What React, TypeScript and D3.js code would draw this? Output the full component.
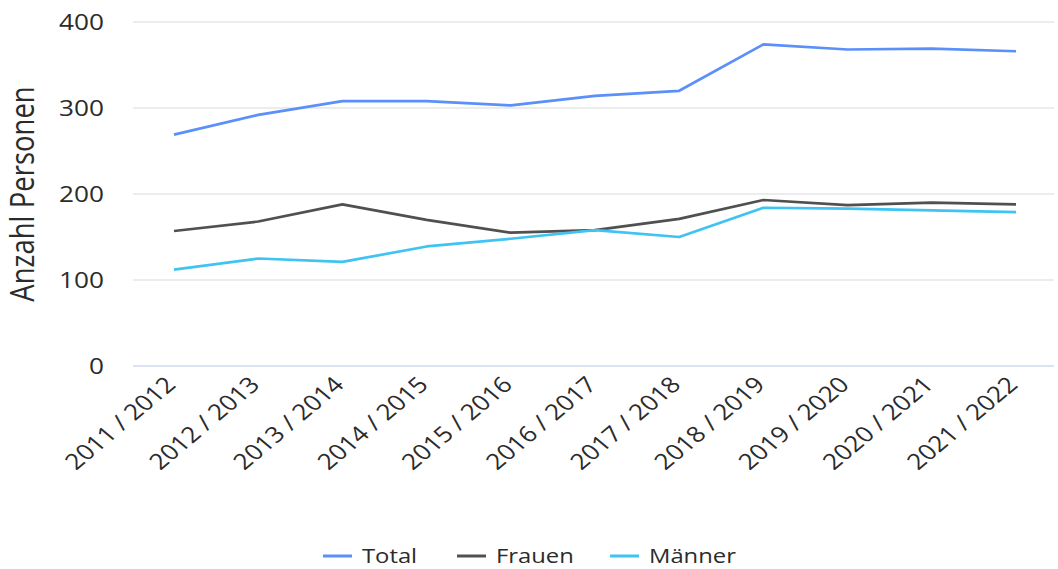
import React from "react";
import * as d3 from "d3";

const categories = ["2011 / 2012","2012 / 2013","2013 / 2014","2014 / 2015","2015 / 2016","2016 / 2017","2017 / 2018","2018 / 2019","2019 / 2020","2020 / 2021","2021 / 2022"];
const total = [269, 292, 308, 308, 303, 314, 320, 374, 368, 369, 366];
const frauen = [157, 168, 188, 170, 155, 158, 171, 193, 187, 190, 188];
const maenner = [112, 125, 121, 139, 148, 158, 150, 184, 183, 181, 179];
const yTicks = [0, 100, 200, 300, 400];

const seriesList = [
  { name: "Total", values: total, color: "#5b8ff9" },
  { name: "Frauen", values: frauen, color: "#505050" },
  { name: "Männer", values: maenner, color: "#3ec3f2" },
];

const W = 1058, H = 569;
const font = "'Open Sans', 'Noto Sans', sans-serif";
const SX = 1.19;

export default function App() {
  const x = d3.scalePoint<string>().domain(categories).range([174, 1016]);
  const y = d3.scaleLinear().domain([0, 400]).range([366, 22]);
  const line = d3.line<number>().x((_, i) => x(categories[i])!).y((d) => y(d));
  const legendX = [323, 457, 610];
  return (
    <svg width={W} height={H} style={{ position: "absolute", left: 0, top: 0, fontFamily: font }}>
      <rect width={W} height={H} fill="#fff" />
      {yTicks.map((t) => (
        <g key={t}>
          <line x1={133} x2={1054} y1={y(t)} y2={y(t)} stroke={t === 0 ? "#cfd8ee" : "#e6e6e6"} strokeWidth={1.3} />
          <text transform={`translate(104,${y(t)}) scale(${SX},1)`} dy="0.35em" textAnchor="end" fontSize={22} fill="#2b2b2b">{t}</text>
        </g>
      ))}
      <text transform={`translate(34,194) scale(${SX},1) rotate(-90)`} textAnchor="middle" fontSize={27.5} fill="#2b2b2b">Anzahl Personen</text>
      {categories.map((c) => (
        <text key={c} transform={`translate(${x(c)! + 3},386) scale(${SX},1) rotate(-45)`} textAnchor="end" fontSize={22} fill="#2b2b2b">{c}</text>
      ))}
      {seriesList.map((s) => (
        <path key={s.name} d={line(s.values)!} fill="none" stroke={s.color} strokeWidth={2.7} strokeLinejoin="round" />
      ))}
      {seriesList.map((s, i) => (
        <g key={s.name}>
          <line x1={legendX[i]} x2={legendX[i] + 29} y1={556} y2={556} stroke={s.color} strokeWidth={3} />
          <text transform={`translate(${legendX[i] + 39},556) scale(${SX},1)`} dy="0.35em" fontSize={20} fill="#2b2b2b">{s.name}</text>
        </g>
      ))}
    </svg>
  );
}
